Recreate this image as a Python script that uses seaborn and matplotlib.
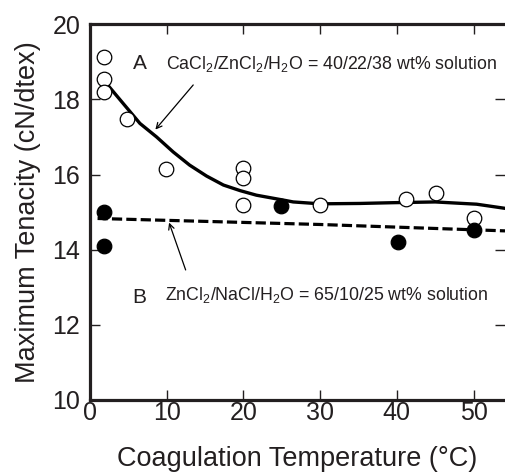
import matplotlib
matplotlib.use('Agg')
import matplotlib.pyplot as plt
import numpy as np
import pandas as pd
import seaborn as sns

# DATA

# solution A: CaCl2/ZnCl2/H2O (open circles)
temp_a = [1.9, 1.9, 1.9, 4.8, 9.9, 20, 20, 20, 30, 41.2, 45.1, 50]
tenacity_a = [19.13, 18.54, 18.2, 17.49, 16.16, 16.18, 15.9, 15.19, 15.19, 15.35, 15.5, 14.83]

# solution B: ZnCl2/NaCl/H2O (filled circles)
temp_b = [1.9, 1.9, 24.9, 40.1, 50]
tenacity_b = [15.01, 14.10, 15.17, 14.21, 14.52]

# fitted curves
curve_a_x = [1.96, 4.34, 6.52, 8.69, 10.86, 13.0, 15.2, 17.4, 19.6, 21.7, 25.2,
             26.5, 30, 35.2, 39.5, 45, 50.4, 54.1]
curve_a_y = [18.47, 17.89, 17.36, 17.0, 16.6, 16.25, 15.96, 15.72, 15.57, 15.45, 15.32,
             15.27, 15.22, 15.23, 15.25, 15.27, 15.21, 15.1]
curve_b_x = [1.0, 30, 54.1]
curve_b_y = [14.83, 14.67, 14.50]

# PLOT

ink = '#231f20'
sns.set_style('ticks', {'axes.edgecolor': ink, 'text.color': ink,
                        'xtick.color': ink, 'ytick.color': ink,
                        'axes.labelcolor': ink})
plt.rcParams['font.family'] = ['Liberation Sans', 'DejaVu Sans']
plt.rcParams['mathtext.fontset'] = 'custom'
plt.rcParams['mathtext.rm'] = 'Liberation Sans'

fig = plt.figure(figsize=(5.05, 4.75), dpi=100)
ax = fig.add_axes([0.178, 0.158, 0.822, 0.791])

sns.lineplot(x=curve_a_x, y=curve_a_y, color='black', linewidth=2.4, ax=ax)
sns.lineplot(x=curve_b_x, y=curve_b_y, color='black', linewidth=2.3, ax=ax)
ax.lines[-1].set_dashes((3.2, 1.3))

sns.scatterplot(x=temp_a, y=tenacity_a, marker='o', s=110, facecolor='white',
                edgecolor='black', linewidth=0.9, ax=ax, zorder=3)
sns.scatterplot(x=temp_b, y=tenacity_b, marker='o', s=110, color='black',
                edgecolor='black', linewidth=0.9, ax=ax, zorder=3)

ax.set_xlim(0, 54.1)
ax.set_ylim(10, 20)
ax.set_xticks([0, 10, 20, 30, 40, 50])
ax.set_yticks([10, 12, 14, 16, 18, 20])

for side in ['left', 'bottom', 'top']:
    ax.spines[side].set_linewidth(2.3)
ax.spines['right'].set_visible(False)
ax.tick_params(direction='in', length=7, width=1, top=True, right=True,
               labelsize=18)
ax.tick_params(axis='x', pad=1)
ax.tick_params(axis='y', pad=7)

ax.set_xlabel('Coagulation Temperature (°C)', fontsize=19.5, labelpad=15)
ax.set_ylabel('Maximum Tenacity (cN/dtex)', fontsize=19.5, labelpad=8)

# annotations
ax.text(6.5, 18.95, 'A', fontsize=15, va='center', ha='center')
ax.text(9.9, 18.95, r'CaCl$_2$/ZnCl$_2$/H$_2$O = 40/22/38 wt% solution',
        fontsize=12.8, va='center', ha='left')
ax.annotate('', xy=(8.3, 17.14), xytext=(13.7, 18.44),
            arrowprops=dict(arrowstyle='->', color='black', lw=0.9))

ax.text(6.4, 12.73, 'B', fontsize=15, va='center', ha='center')
ax.text(9.8, 12.78, r'ZnCl$_2$/NaCl/H$_2$O = 65/10/25 wt% solution',
        fontsize=12.8, va='center', ha='left')
ax.annotate('', xy=(10.2, 14.79), xytext=(12.6, 13.39),
            arrowprops=dict(arrowstyle='->', color='black', lw=0.9))

fig.savefig('out.png', dpi=100)
